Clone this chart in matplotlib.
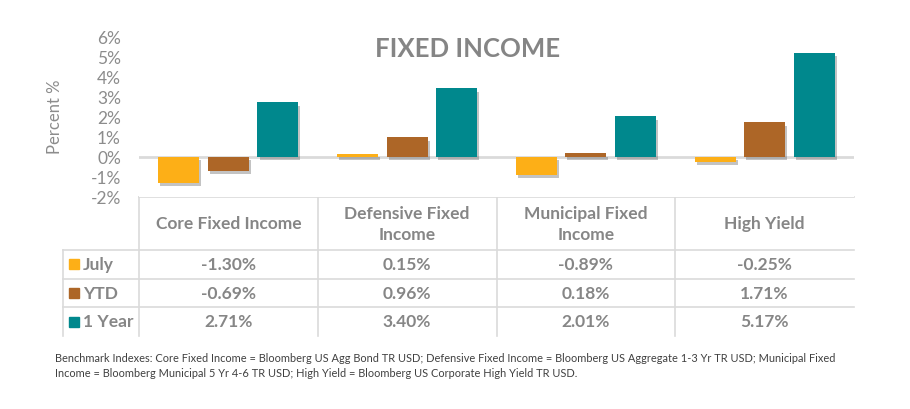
import matplotlib
matplotlib.use("Agg")
import matplotlib.pyplot as plt
import matplotlib.patheffects as pe
from matplotlib.lines import Line2D
from matplotlib.patches import Rectangle
import numpy as np

categories = ["Core Fixed Income", "Defensive Fixed\nIncome", "Municipal Fixed\nIncome", "High Yield"]
series_names = ["July", "YTD", "1 Year"]
july = [-1.30, 0.15, -0.89, -0.25]
ytd = [-0.69, 0.96, 0.18, 1.71]
one_year = [2.71, 3.40, 2.01, 5.17]
yticks = [-2, -1, 0, 1, 2, 3, 4, 5, 6]
footnote = ("Benchmark Indexes: Core Fixed Income = Bloomberg US Agg Bond TR USD; Defensive Fixed Income = Bloomberg US Aggregate 1-3 Yr TR USD; Municipal Fixed\n"
            "Income = Bloomberg Municipal 5 Yr 4-6 TR USD; High Yield = Bloomberg US Corporate High Yield TR USD.")

colors = ["#FDAF17", "#AD6627", "#00888D"]
grey_txt = "#868686"
tick_txt = "#8C8C8C"
grid_c = "#DADADA"
FONT = "Lato"
plt.rcParams['font.family'] = [FONT, 'DejaVu Sans']

W, H = 910, 410
fig = plt.figure(figsize=(W / 100, H / 100), dpi=100)

# plot area in pixels
L, R, T, B = 139, 854, 37, 198
ax = fig.add_axes([L / W, 1 - B / H, (R - L) / W, (B - T) / H])
ax.set_xlim(-0.5, len(categories) - 0.5)
ax.set_ylim(-2, 6)
for s in ax.spines.values():
    s.set_visible(False)
ax.set_xticks([])
ax.set_yticks(yticks)
ax.set_yticklabels([f"{t}%" for t in yticks], color=tick_txt, fontsize=12.5)
ax.tick_params(axis='y', length=0, pad=13)
ax.axhline(0, color=grid_c, lw=2, zorder=1)

x = np.arange(len(categories))
bw = 0.229
off = 0.277
shadow = [pe.SimplePatchShadow(offset=(1.5, -2.5), shadow_rgbFace="#555555", alpha=0.35), pe.Normal()]
for i, (vals, c) in enumerate(zip([july, ytd, one_year], colors)):
    bars = ax.bar(x + (i - 1) * off, vals, width=bw, color=c, zorder=3)
    for b in bars:
        b.set_path_effects(shadow)

ax.set_ylabel("Percent %", color=tick_txt, fontsize=12)
ax.yaxis.set_label_coords((63 - L) / (R - L), (B - 117) / (B - T))

fig.text(468 / W, 1 - 49 / H, "FIXED INCOME", ha="center", va="center",
         fontsize=18.5, fontweight="bold", color="#858585")

# table overlay in pixel coordinates
tab = fig.add_axes([0, 0, 1, 1], zorder=-1)
tab.set_xlim(0, W)
tab.set_ylim(H, 0)
tab.axis("off")

col_edges = [L + (R - L) * k / len(categories) for k in range(len(categories) + 1)]
row_lines = [251, 279.5, 308]
bottom = 337
left_tab = 63

# horizontal lines
tab.add_line(Line2D([L, R], [B, B], color=grid_c, lw=1.2))
for yl in row_lines:
    tab.add_line(Line2D([left_tab, R], [yl, yl], color=grid_c, lw=1.2))
# vertical lines
for xe in col_edges[:-1]:
    tab.add_line(Line2D([xe, xe], [B, bottom], color=grid_c, lw=1.2))
tab.add_line(Line2D([left_tab, left_tab], [row_lines[0], bottom], color=grid_c, lw=1.2))

# header text
for k, cat in enumerate(categories):
    cx = (col_edges[k] + col_edges[k + 1]) / 2
    tab.text(cx, (B + row_lines[0]) / 2, cat, ha="center", va="center", fontsize=12.5,
             fontweight="bold", color=grey_txt, linespacing=1.45)

row_centers = [(row_lines[0] + row_lines[1]) / 2, (row_lines[1] + row_lines[2]) / 2,
               (row_lines[2] + bottom) / 2]
for r, (name, vals, c) in enumerate(zip(series_names, [july, ytd, one_year], colors)):
    cy = row_centers[r]
    tab.add_patch(Rectangle((69, cy - 5), 10, 10, color=c))
    tab.text(83, cy, name, ha="left", va="center", fontsize=12.5, fontweight="bold", color=grey_txt)
    for k, v in enumerate(vals):
        cx = (col_edges[k] + col_edges[k + 1]) / 2
        tab.text(cx, cy, f"{v:.2f}%", ha="center", va="center", fontsize=12.5,
                 fontweight="bold", color=grey_txt)

tab.text(55, 366, footnote, ha="left", va="center", fontsize=7.9, color="#404040", linespacing=1.5)

fig.savefig("out.png", dpi=100, facecolor="white")
